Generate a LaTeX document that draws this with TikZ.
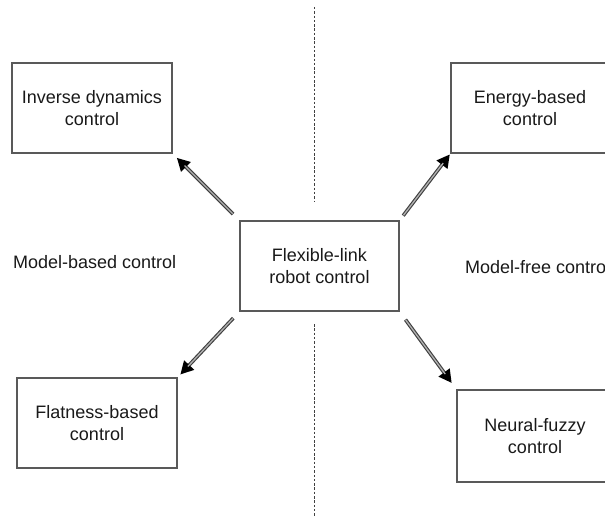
\documentclass[tikz,border=0pt]{standalone}
\usepackage{fontspec}
\setmainfont{Liberation Sans}
\usetikzlibrary{arrows.meta}
\begin{document}
\begin{tikzpicture}[x=1pt,y=-1pt,
  box/.style={draw=black!65, line width=1.1pt, rectangle, inner sep=0pt, align=center,
    font=\fontsize{18}{22.5}\selectfont, text=black!90},
  lbl/.style={font=\fontsize{18}{22.5}\selectfont, text=black!90, inner sep=0pt, anchor=base west},
  arr/.style 2 args={draw=black!75, line width=3.6pt, shorten <=#1, shorten >=#2,
    -{Triangle[length=13pt,width=13pt,color=black]},
    postaction={draw=black!30, line width=1.3pt, -, shorten <={#1+0.5pt}, shorten >={#2+11pt}}},
  sep/.style={draw=black!75, line width=1pt, dash pattern=on 2.5pt off 1.8pt}]
\useasboundingbox (0,0) rectangle (605,516);
\clip (0,0) rectangle (605,516);
\node[box, minimum width=160pt, minimum height=90pt] (id) at (92,108) {Inverse dynamics\\control};
\node[box, minimum width=158pt, minimum height=90pt] (eb) at (530,108) {Energy-based\\control};
\node[box, minimum width=159pt, minimum height=90pt] (c) at (319.5,266) {Flexible-link\\robot control};
\node[box, minimum width=160pt, minimum height=90pt] (fb) at (97,423) {Flatness-based\\control};
\node[box, minimum width=156pt, minimum height=92pt] (nf) at (535,436) {Neural-fuzzy\\control};
\node[lbl] (mb) at (13,268) {Model-based control};
\node[lbl] (mf) at (465,273) {Model-free control};
\coordinate (t1) at (314,7);
\coordinate (t2) at (314,202);
\coordinate (b1) at (314,324);
\coordinate (b2) at (314,520);
\draw[sep] (t1) -- (t2);
\draw[sep] (b1) -- (b2);
\draw[arr={9pt}{6pt}] (c.north west) -- (id.south east);
\draw[arr={6pt}{1pt}] (c.north east) -- (eb.south west);
\draw[arr={9pt}{4pt}] (c.south west) -- (fb.north east);
\draw[arr={10pt}{8pt}] (c.south east) -- (nf.north west);
\end{tikzpicture}
\end{document}
